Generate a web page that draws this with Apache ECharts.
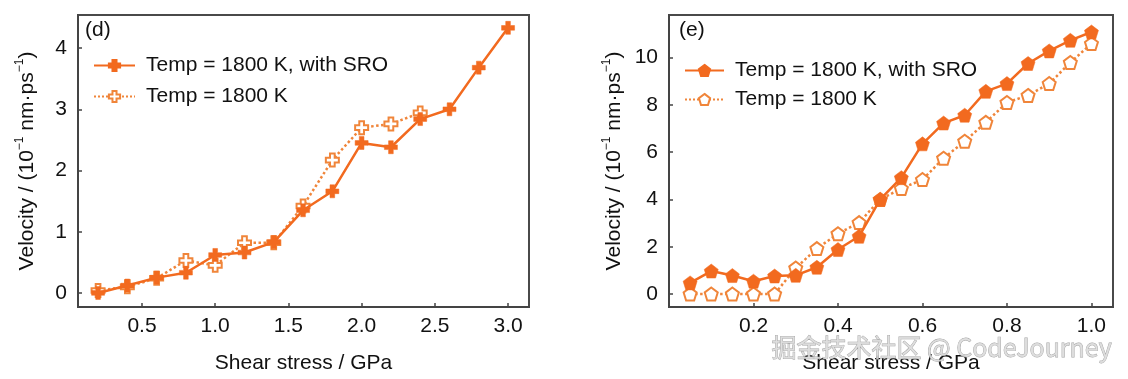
<!DOCTYPE html>
<html>
<head>
<meta charset="utf-8">
<script src="https://cdn.jsdelivr.net/npm/echarts@6/dist/echarts.min.js"></script>
<style>
html,body{margin:0;padding:0;background:#fff;}
#chart{width:1128px;height:379px;}
</style>
</head>
<body>
<div id="chart"></div>
<script>
// ---- Data (panel d) ----
const dStressSRO = [0.2,0.4,0.6,0.8,1.0,1.2,1.4,1.6,1.8,2.0,2.2,2.4,2.6,2.8,3.0];
const dVelSRO    = [0.0,0.12,0.25,0.33,0.62,0.66,0.83,1.35,1.66,2.45,2.38,2.84,3.0,3.68,4.33];
const dStress    = [0.2,0.4,0.6,0.8,1.0,1.2,1.4,1.6,1.8,2.0,2.2,2.4];
const dVel       = [0.04,0.1,0.24,0.53,0.45,0.82,0.82,1.42,2.17,2.7,2.76,2.94];
const dXTicks = [0.5,1.0,1.5,2.0,2.5,3.0];
const dYTicks = [0,1,2,3,4];
// ---- Data (panel e) ----
const eStress = [0.05,0.1,0.15,0.2,0.25,0.3,0.35,0.4,0.45,0.5,0.55,0.6,0.65,0.7,0.75,0.8,0.85,0.9,0.95,1.0];
const eVelSRO = [0.47,0.97,0.78,0.54,0.76,0.79,1.13,1.88,2.44,4.0,4.92,6.35,7.23,7.56,8.57,8.9,9.75,10.28,10.73,11.08];
const eVel    = [0,0,0,0,0,1.1,1.92,2.55,3.02,4.0,4.46,4.84,5.74,6.46,7.26,8.1,8.4,8.9,9.79,10.59];
const eXTicks = [0.2,0.4,0.6,0.8,1.0];
const eYTicks = [0,2,4,6,8,10];
const labelSRO = 'Temp = 1800 K, with SRO';
const labelPlain = 'Temp = 1800 K';

const ORANGE = '#f26a1f';
const ORANGE2 = '#f0853a';
const FONT = 'Liberation Sans, Arial, Helvetica, sans-serif';
const PLUS = 'path://M3.2,0 H6.8 V3.2 H10 V6.8 H6.8 V10 H3.2 V6.8 H0 V3.2 H3.2 Z';
const PENT = 'path://M50,0 L97.6,34.5 L79.4,90.5 L20.6,90.5 L2.4,34.5 Z';

const zip = (xs, ys) => xs.map((x, i) => [x, ys[i]]);
const tickColor = '#444';

function xAxisCfg(idx, min, max, ticks) {
  return {
    type: 'value', gridIndex: idx, min: min, max: max,
    name: 'Shear stress / GPa', nameLocation: 'middle', nameGap: 46,
    nameTextStyle: {fontSize: 21, fontFamily: FONT, color: '#111'},
    axisLine: {show: true, onZero: false, lineStyle: {color: tickColor, width: 2}},
    axisTick: {show: true, inside: true, length: 4, lineStyle: {color: tickColor, width: 1.5}, customValues: ticks},
    axisLabel: {fontSize: 21, fontFamily: FONT, color: '#111', margin: 9, customValues: ticks,
      formatter: v => v.toFixed(1)},
    splitLine: {show: false}
  };
}
function yAxisCfg(idx, min, max, ticks, gap) {
  return {
    type: 'value', gridIndex: idx, min: min, max: max,
    name: '{a|Velocity / (10}{s|−1}{a| nm·ps}{s|−1}{a|)}',
    nameLocation: 'middle', nameGap: gap, nameRotate: 90,
    nameTextStyle: {fontSize: 21, fontFamily: FONT, color: '#111',
      rich: {
        a: {fontSize: 21, fontFamily: FONT, color: '#111', lineHeight: 24, verticalAlign: 'bottom'},
        s: {fontSize: 12, fontFamily: FONT, color: '#111', lineHeight: 24, verticalAlign: 'top', padding: [0,0,9,0]}
      }},
    axisLine: {show: true, onZero: false, lineStyle: {color: tickColor, width: 2}},
    axisTick: {show: true, inside: true, length: 4, lineStyle: {color: tickColor, width: 1.5}, customValues: ticks},
    axisLabel: {fontSize: 21, fontFamily: FONT, color: '#111', margin: 11, customValues: ticks,
      formatter: v => String(Math.round(v))},
    splitLine: {show: false}
  };
}

function solidSeries(name, x, y, sym, size, gi) {
  return {
    name: name, type: 'line', xAxisIndex: gi, yAxisIndex: gi,
    data: zip(x, y), symbol: sym, symbolSize: size, showSymbol: true,
    lineStyle: {color: ORANGE, width: 2.5},
    itemStyle: {color: ORANGE, borderColor: ORANGE, borderWidth: 0.5},
    z: 3, animation: false
  };
}
function dottedSeries(name, x, y, sym, size, gi) {
  return {
    name: name, type: 'line', xAxisIndex: gi, yAxisIndex: gi,
    data: zip(x, y), symbol: sym, symbolSize: size, showSymbol: true,
    lineStyle: {color: ORANGE2, width: 2.5, type: 'dotted'},
    itemStyle: {color: '#fff', borderColor: ORANGE2, borderWidth: 2},
    z: 2, animation: false
  };
}

const names = {d1: labelSRO, d2: labelPlain, e1: labelSRO, e2: labelPlain};

const chart = echarts.init(document.getElementById('chart'), null, {renderer: 'canvas'});
chart.setOption({
  animation: false,
  backgroundColor: '#fff',
  grid: [
    {left: 78, top: 15, width: 451, height: 293, show: true, borderColor: '#4a4a4a', borderWidth: 2, backgroundColor: 'transparent'},
    {left: 669, top: 15, width: 444, height: 292, show: true, borderColor: '#4a4a4a', borderWidth: 2, backgroundColor: 'transparent'}
  ],
  xAxis: [
    xAxisCfg(0, 0.063, 3.143, dXTicks),
    xAxisCfg(1, 0.0, 1.051, eXTicks)
  ],
  yAxis: [
    yAxisCfg(0, -0.23, 4.54, dYTicks, 40),
    yAxisCfg(1, -0.55, 11.8, eYTicks, 44)
  ],
  legend: [
    {data: ['d1','d2'], orient: 'vertical', left: 88, top: 49, itemWidth: 41, itemHeight: 14, itemGap: 8,
      formatter: n => names[n], selectedMode: false,
      textStyle: {fontSize: 21, fontFamily: FONT, color: '#111', padding: [0,0,0,6], lineHeight: 23}},
    {data: ['e1','e2'], orient: 'vertical', left: 679, top: 54, itemWidth: 39, itemHeight: 14, itemGap: 6,
      formatter: n => names[n], selectedMode: false,
      textStyle: {fontSize: 21, fontFamily: FONT, color: '#111', padding: [0,0,0,6], lineHeight: 23}}
  ],
  graphic: [
    {type: 'text', left: 85, top: 20, style: {text: '(d)', fontSize: 21, fontFamily: FONT, fill: '#111'}},
    {type: 'text', left: 679, top: 20, style: {text: '(e)', fontSize: 21, fontFamily: FONT, fill: '#111'}},
    {type: 'text', left: 771, top: 335, z: 100,
      style: {text: '掘金技术社区 @ CodeJourney', fontSize: 25, fontFamily: 'Noto Sans CJK SC, sans-serif',
        fill: 'rgba(220,220,220,0.9)', stroke: 'rgba(140,140,140,0.8)', lineWidth: 0.8}}
  ],
  series: [
    dottedSeries('d2', dStress, dVel, PLUS, 13, 0),
    solidSeries('d1', dStressSRO, dVelSRO, PLUS, 13, 0),
    dottedSeries('e2', eStress, eVel, PENT, 13, 1),
    solidSeries('e1', eStress, eVelSRO, PENT, 14, 1)
  ]
});
</script>
</body>
</html>
